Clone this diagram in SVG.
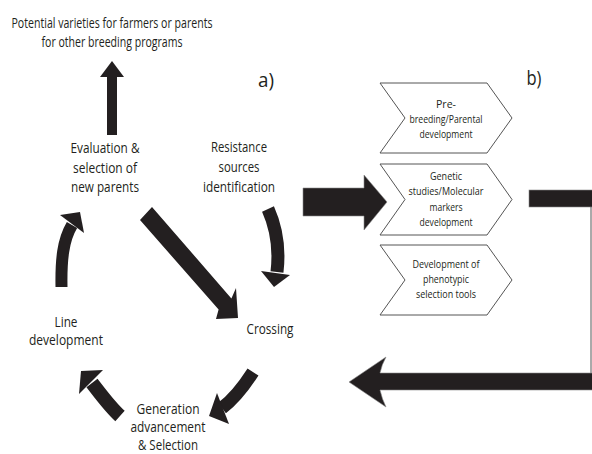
<svg xmlns="http://www.w3.org/2000/svg" width="592" height="454" viewBox="0 0 592 454">
<defs>
<style>
text{font-family:"Open Sans","Noto Sans","Liberation Sans",sans-serif;fill:#231f20;text-anchor:middle}
.top{font-size:14px}
.lbl{font-size:15px}
.gen{font-size:14.5px}
.ch{font-size:11.5px}
.tag{font-size:20px}
.chev{fill:#fff;stroke:#555;stroke-width:1}
.blk{fill:#231f20;stroke:#8a8a8a;stroke-width:0.6}
.shaft{fill:none;stroke:#231f20;stroke-linecap:butt}
.head{fill:#231f20}
</style>
</defs>
<rect width="592" height="454" fill="#fff"/>

<g id="output">
<text class="top" x="112" y="28" textLength="201" lengthAdjust="spacingAndGlyphs">Potential varieties for farmers or parents</text>
<text class="top" x="112" y="47" textLength="141" lengthAdjust="spacingAndGlyphs">for other breeding programs</text>
</g>
<g id="label-a"><text class="tag" x="266" y="87" textLength="16" lengthAdjust="spacingAndGlyphs">a)</text></g>
<g id="label-b"><text class="tag" x="534" y="85" textLength="15" lengthAdjust="spacingAndGlyphs">b)</text></g>

<g id="evaluation">
<text class="lbl" x="105" y="153" textLength="69" lengthAdjust="spacingAndGlyphs">Evaluation &amp;</text>
<text class="lbl" x="105" y="173" textLength="64" lengthAdjust="spacingAndGlyphs">selection of</text>
<text class="lbl" x="105" y="192" textLength="68" lengthAdjust="spacingAndGlyphs">new parents</text>
</g>
<g id="resistance">
<text class="lbl" x="239" y="152" textLength="56" lengthAdjust="spacingAndGlyphs">Resistance</text>
<text class="lbl" x="239" y="172" textLength="41" lengthAdjust="spacingAndGlyphs">sources</text>
<text class="lbl" x="239" y="192" textLength="72" lengthAdjust="spacingAndGlyphs">identification</text>
</g>
<g id="crossing">
<text class="lbl" x="270" y="334" textLength="47" lengthAdjust="spacingAndGlyphs">Crossing</text>
</g>
<g id="generation">
<text class="gen" x="168" y="414" textLength="63" lengthAdjust="spacingAndGlyphs">Generation</text>
<text class="gen" x="168" y="432" textLength="75" lengthAdjust="spacingAndGlyphs">advancement</text>
<text class="gen" x="168" y="450" textLength="60" lengthAdjust="spacingAndGlyphs">&amp; Selection</text>
</g>
<g id="line-development">
<text class="lbl" x="66" y="327" textLength="23" lengthAdjust="spacingAndGlyphs">Line</text>
<text class="lbl" x="66" y="345" textLength="74" lengthAdjust="spacingAndGlyphs">development</text>
</g>

<g id="prebreeding">
<polygon class="chev" points="380,83 487,83 512,118 487,153 380,153 405,118"/>
<text class="ch" x="446" y="108" textLength="20" lengthAdjust="spacingAndGlyphs">Pre-</text>
<text class="ch" x="446" y="123" textLength="73" lengthAdjust="spacingAndGlyphs">breeding/Parental</text>
<text class="ch" x="446" y="138" textLength="53" lengthAdjust="spacingAndGlyphs">development</text>
</g>
<g id="genetic">
<polygon class="chev" points="380,164 487,164 512,199.5 487,235 380,235 405,199.5"/>
<text class="ch" x="446" y="180" textLength="32" lengthAdjust="spacingAndGlyphs">Genetic</text>
<text class="ch" x="446" y="195" textLength="75" lengthAdjust="spacingAndGlyphs">studies/Molecular</text>
<text class="ch" x="446" y="211" textLength="33" lengthAdjust="spacingAndGlyphs">markers</text>
<text class="ch" x="446" y="226" textLength="53" lengthAdjust="spacingAndGlyphs">development</text>
</g>
<g id="phenotypic">
<polygon class="chev" points="380,245 487,245 512,280 487,315 380,315 405,280"/>
<text class="ch" x="446" y="268" textLength="67" lengthAdjust="spacingAndGlyphs">Development of</text>
<text class="ch" x="446" y="283" textLength="46" lengthAdjust="spacingAndGlyphs">phenotypic</text>
<text class="ch" x="446" y="298" textLength="60" lengthAdjust="spacingAndGlyphs">selection tools</text>
</g>

<g id="connectors">
<polygon class="head" points="107,135 107,77 100,77 112,61 124,77 117,77 117,135"/>
<polygon class="head" points="140,220 218.6,309.6 216,319 238,318 236,288 231.4,298.4 152,207"/>
<path class="shaft" stroke-width="13" d="M268,209 Q281,238 277,272"/>
<polygon class="head" points="261,271 290,275 274,287"/>
<path class="shaft" stroke-width="13" d="M253,372 C244,386 234,399 222,408"/>
<polygon class="head" points="217,393 229,424 209,416"/>
<path class="shaft" stroke-width="14" d="M120,416 C110,407 99,392 92,383"/>
<polygon class="head" points="79,394 103,370 81,371"/>
<path class="shaft" stroke-width="12" d="M61.5,287 C61,260 63,240 72,225"/>
<polygon class="head" points="60,215 84,233 80,212"/>
<polygon class="blk" points="303,188 364,188 364,175 387,202 364,230 364,216 303,216"/>
<rect class="blk" x="529" y="190" width="64" height="17"/>
<line x1="591" y1="207" x2="591" y2="373" stroke="#555" stroke-width="1"/>
<path class="blk" d="M593,373 L380,373 Q382,364 386,357 L349,382 L386,407 Q382,399 380,390 L593,390 Z"/>
</g>
</svg>
